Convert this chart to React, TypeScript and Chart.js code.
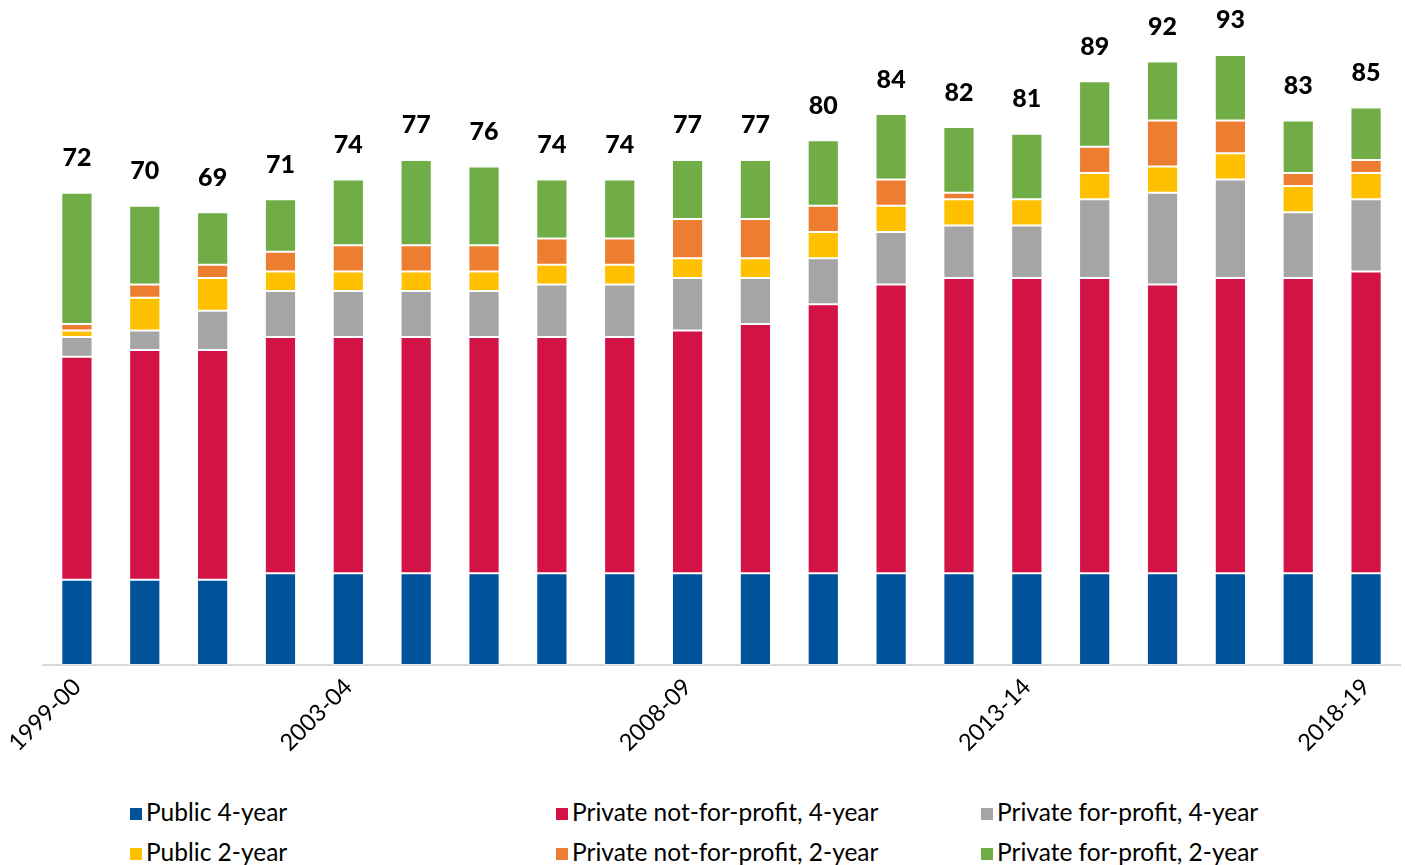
import React, { useEffect, useRef } from "react";
import { Chart, registerables } from "chart.js";

Chart.register(...registerables);

const categories = [
  "1999-00", "2000-01", "2001-02", "2002-03", "2003-04", "2004-05", "2005-06",
  "2006-07", "2007-08", "2008-09", "2009-10", "2010-11", "2011-12", "2012-13",
  "2013-14", "2014-15", "2015-16", "2016-17", "2017-18", "2018-19",
];
const shownTicks = ["1999-00", "2003-04", "2008-09", "2013-14", "2018-19"];

const public4 = [13, 13, 13, 14, 14, 14, 14, 14, 14, 14, 14, 14, 14, 14, 14, 14, 14, 14, 14, 14];
const privateNfp4 = [34, 35, 35, 36, 36, 36, 36, 36, 36, 37, 38, 41, 44, 45, 45, 45, 44, 45, 45, 46];
const privateFp4 = [3, 3, 6, 7, 7, 7, 7, 8, 8, 8, 7, 7, 8, 8, 8, 12, 14, 15, 10, 11];
const public2 = [1, 5, 5, 3, 3, 3, 3, 3, 3, 3, 3, 4, 4, 4, 4, 4, 4, 4, 4, 4];
const privateNfp2 = [1, 2, 2, 3, 4, 4, 4, 4, 4, 6, 6, 4, 4, 1, 0, 4, 7, 5, 2, 2];
const privateFp2 = [20, 12, 8, 8, 10, 13, 12, 9, 9, 9, 9, 10, 10, 10, 10, 10, 9, 10, 8, 8];

const seriesNames = [
  "Public 4-year",
  "Private not-for-profit, 4-year",
  "Private for-profit, 4-year",
  "Public 2-year",
  "Private not-for-profit, 2-year",
  "Private for-profit, 2-year",
];
const seriesColors = ["#00529B", "#D31245", "#A5A5A5", "#FFC000", "#ED7D31", "#70AD47"];
const seriesData = [public4, privateNfp4, privateFp4, public2, privateNfp2, privateFp2];

const FONT = "Lato, 'Open Sans', sans-serif";

const totalsPlugin = {
  id: "totals",
  afterDatasetsDraw(chart: any) {
    const ctx = chart.ctx;
    const n = chart.data.labels.length;
    const lastMeta = chart.getDatasetMeta(chart.data.datasets.length - 1);
    ctx.save();
    ctx.font = `900 25px ${FONT}`;
    ctx.fillStyle = "#000";
    ctx.textAlign = "center";
    ctx.textBaseline = "bottom";
    for (let i = 0; i < n; i++) {
      let total = 0;
      chart.data.datasets.forEach((d: any) => (total += d.data[i]));
      const el = lastMeta.data[i];
      const y = chart.scales.y.getPixelForValue(total);
      ctx.fillText(String(total), el.x, y - 22);
    }
    ctx.restore();
  },
};

export default function App() {
  const ref = useRef<HTMLCanvasElement | null>(null);

  useEffect(() => {
    document.body.style.margin = "0";
    const chart = new Chart(ref.current as HTMLCanvasElement, {
      type: "bar",
      data: {
        labels: categories,
        datasets: seriesNames.map((name, i) => ({
          label: name,
          data: seriesData[i],
          backgroundColor: seriesColors[i],
          borderColor: "rgba(255,255,255,0.45)",
          borderWidth: 1,
          borderSkipped: false,
          barPercentage: 0.46,
          categoryPercentage: 1,
        })),
      },
      options: {
        animation: false,
        responsive: false,
        maintainAspectRatio: false,
        layout: { padding: { top: 9, left: 43, right: 5, bottom: 0 } },
        plugins: {
          legend: { display: false },
          tooltip: { enabled: false },
        },
        scales: {
          x: {
            stacked: true,
            grid: { display: false, drawTicks: false },
            border: { display: true, color: "#D9D9D9", width: 2 },
            ticks: {
              autoSkip: false,
              maxRotation: 45,
              minRotation: 45,
              padding: 8,
              color: "#000",
              font: { family: FONT, size: 23.5 },
              callback: (_v: any, idx: number) =>
                shownTicks.includes(categories[idx]) ? categories[idx] : "",
            },
            afterFit: (scale: any) => {
              scale.height = 115;
            },
          },
          y: {
            stacked: true,
            display: false,
            min: 0,
            max: 100,
          },
        },
      },
      plugins: [totalsPlugin],
    });
    return () => chart.destroy();
  }, []);

  const colLeft = [130, 556, 981];
  const rowTop = [797, 837];
  const order = [0, 1, 2, 3, 4, 5];

  return (
    <div style={{ position: "relative", width: 1405, height: 865, background: "#fff", overflow: "hidden" }}>
      <canvas ref={ref} width={1405} height={780} style={{ position: "absolute", left: 0, top: 0 }} />
      {order.map((si) => {
        const r = Math.floor(si / 3);
        const c = si % 3;
        return (
          <div
            key={si}
            style={{
              position: "absolute",
              left: colLeft[c],
              top: rowTop[r],
              height: 28,
              display: "flex",
              alignItems: "center",
              fontFamily: FONT,
              fontSize: 24.5,
              color: "#000",
              whiteSpace: "nowrap",
            }}
          >
            <span
              style={{
                display: "inline-block",
                width: 12,
                height: 12,
                background: seriesColors[si],
                marginRight: 4,
                marginTop: 5,
              }}
            />
            <span>{seriesNames[si]}</span>
          </div>
        );
      })}
    </div>
  );
}
